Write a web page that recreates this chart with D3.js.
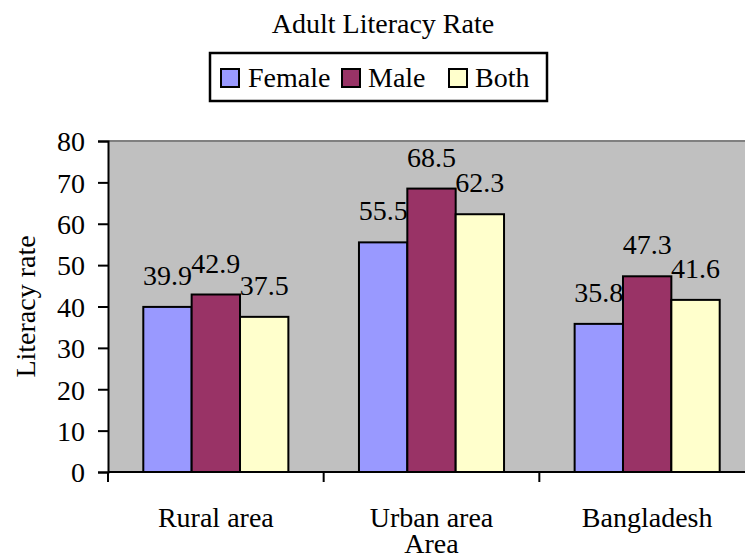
<!DOCTYPE html><html>
<head>
<meta charset="utf-8">
<style>
body { margin: 0; background: #fff; }
.bar { stroke: #000; stroke-width: 2px; }
</style>
<script src="https://cdn.jsdelivr.net/npm/d3@7"></script>
</head>
<body>
<svg id="chart" width="745" height="558"></svg>
<script>
var categories = [["Rural area"], ["Urban area", "Area"], ["Bangladesh"]];
var seriesNames = ["Female", "Male", "Both"];
var female = [39.9, 55.5, 35.8];
var male = [42.9, 68.5, 47.3];
var both = [37.5, 62.3, 41.6];
var yTicks = [0, 10, 20, 30, 40, 50, 60, 70, 80];
var colours = ["#9999ff", "#993366", "#ffffcc"];

var serif = "'Liberation Serif', 'Times New Roman', Times, serif";
var svg = d3.select("#chart");
var fs = "28px";
var plotL = 108, plotR = 755, plotT = 141, plotB = 472;

function txt(sel, size) {
  return sel.style("font-family", serif).style("font-size", size || fs).style("fill", "#000");
}

var x = d3.scaleBand().domain(d3.range(categories.length)).range([plotL, plotR]).paddingInner(0).paddingOuter(0);
var xs = d3.scaleBand().domain(seriesNames).range([0, x.bandwidth()]).paddingInner(0).paddingOuter(0.73);
var y = d3.scaleLinear().domain([0, 80]).range([plotB, plotT]);

// plot area
svg.append("rect").attr("x", plotL).attr("y", plotT).attr("width", plotR - plotL).attr("height", plotB - plotT)
  .attr("fill", "#c0c0c0");
svg.append("line").attr("x1", plotL).attr("x2", plotR).attr("y1", plotT).attr("y2", plotT)
  .attr("stroke", "#808080").attr("stroke-width", 2);

var rows = [];
[female, male, both].forEach(function(vals, s) {
  vals.forEach(function(v, i) { rows.push({cat: i, s: s, v: v}); });
});

var bars = svg.append("g");
bars.selectAll("rect").data(rows).enter().append("rect")
  .attr("class", "bar")
  .attr("x", d => x(d.cat) + xs(seriesNames[d.s]))
  .attr("width", xs.bandwidth())
  .attr("y", d => y(d.v))
  .attr("height", d => y(0) - y(d.v))
  .attr("fill", d => colours[d.s]);

txt(bars.selectAll("text").data(rows).enter().append("text")
  .attr("x", d => x(d.cat) + xs(seriesNames[d.s]) + xs.bandwidth() / 2)
  .attr("y", d => y(d.v) - 22)
  .attr("text-anchor", "middle")
  .text(d => d.v.toFixed(1)));

// y axis
var yAxis = svg.append("g").attr("transform", "translate(" + plotL + ",0)")
  .call(d3.axisLeft(y).tickValues(yTicks).tickSize(10).tickPadding(13));
yAxis.select(".domain").attr("stroke", "#000").attr("stroke-width", 2);
yAxis.selectAll(".tick line").attr("stroke", "#000").attr("stroke-width", 2);
txt(yAxis.selectAll(".tick text")).attr("dy", "0.35em");

// x axis
var xAxis = svg.append("g").attr("transform", "translate(0," + plotB + ")");
xAxis.append("line").attr("x1", plotL).attr("x2", plotR).attr("stroke", "#000").attr("stroke-width", 2);
xAxis.selectAll("line.tk").data(d3.range(categories.length + 1)).enter().append("line")
  .attr("class", "tk")
  .attr("x1", i => plotL + i * x.bandwidth()).attr("x2", i => plotL + i * x.bandwidth())
  .attr("y1", 0).attr("y2", 10).attr("stroke", "#000").attr("stroke-width", 2);
txt(xAxis.selectAll("text.cat").data(categories).enter().append("text")
  .attr("class", "cat")
  .attr("text-anchor", "middle")
  .attr("transform", (d, i) => "translate(" + (x(i) + x.bandwidth() / 2) + ",0)"))
  .each(function(d) {
    var t = d3.select(this);
    d.forEach(function(line, k) {
      t.append("tspan").attr("x", 0).attr("y", 55 + k * 26).text(line);
    });
  });

// y title
txt(svg.append("text").attr("transform", "translate(35," + ((plotT + plotB) / 2) + ") rotate(-90)")
  .attr("text-anchor", "middle").text("Literacy rate"));

// title
txt(svg.append("text").attr("x", 383).attr("y", 33).attr("text-anchor", "middle")
  .text("Adult Literacy Rate"), "28px");

// legend
var lg = svg.append("g");
lg.append("rect").attr("x", 210).attr("y", 53).attr("width", 337).attr("height", 48)
  .attr("fill", "#fff").attr("stroke", "#000").attr("stroke-width", 2.5);
var legSw = [221, 342, 449];
var legTx = [248, 368, 475];
seriesNames.forEach(function(n, i) {
  lg.append("rect").attr("x", legSw[i]).attr("y", 69).attr("width", 18).attr("height", 18)
    .attr("fill", colours[i]).attr("stroke", "#000").attr("stroke-width", 2);
  txt(lg.append("text").attr("x", legTx[i]).attr("y", 87).text(n));
});
</script>
</body>
</html>
